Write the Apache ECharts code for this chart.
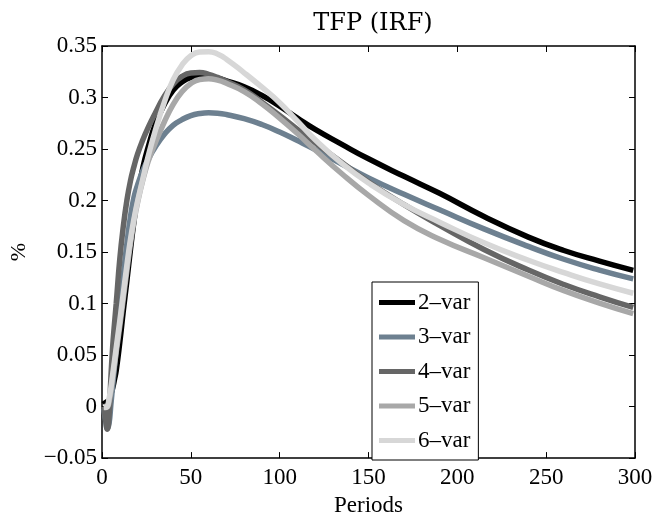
<!DOCTYPE html>
<html>
<head>
<meta charset="utf-8">
<script src="https://cdn.jsdelivr.net/npm/echarts@6/dist/echarts.min.js"></script>
<style>
html,body{margin:0;padding:0;background:#fff;}
#chart{width:657px;height:522px;}
</style>
</head>
<body>
<div id="chart"></div>
<script>
// ---- data ----
const periods = [1,2,3,4,5,6,7,8,10,12,14,16,18,20,23,26,30,35,40,45,50,55,60,65,70,80,90,100,110,120,135,150,170,190,215,240,260,280,299];
const var2 = [0.006,0.004,0.003,0.006,0.012,0.018,0.026,0.035,0.062,0.093,0.122,0.152,0.180,0.205,0.232,0.252,0.274,0.293,0.307,0.315,0.3195,0.3210,0.3205,0.3188,0.3162,0.3105,0.3020,0.2915,0.2800,0.2690,0.2545,0.2405,0.2235,0.2070,0.1845,0.1645,0.1515,0.1412,0.1322];
const var3 = [-0.002,-0.013,-0.021,-0.016,0.002,0.020,0.038,0.056,0.092,0.127,0.158,0.184,0.203,0.215,0.229,0.240,0.252,0.264,0.273,0.2785,0.2825,0.2845,0.2852,0.2848,0.2835,0.2795,0.2738,0.2665,0.2582,0.2495,0.2355,0.2220,0.2060,0.1910,0.1725,0.1555,0.1430,0.1325,0.1240];
const var4 = [0.000,-0.012,-0.022,-0.008,0.028,0.058,0.080,0.100,0.143,0.175,0.200,0.219,0.233,0.245,0.259,0.271,0.285,0.301,0.313,0.3205,0.3238,0.3242,0.3225,0.3195,0.3158,0.3075,0.2955,0.2825,0.2690,0.2560,0.2370,0.2180,0.1960,0.1760,0.1525,0.1325,0.1185,0.1065,0.0962];
const var5 = [0.000,0.000,0.000,0.005,0.015,0.028,0.040,0.053,0.078,0.105,0.132,0.158,0.180,0.198,0.220,0.238,0.256,0.276,0.293,0.3055,0.3135,0.3175,0.3182,0.3168,0.3138,0.3058,0.2940,0.2800,0.2650,0.2490,0.2260,0.2050,0.1805,0.1625,0.1445,0.1265,0.1125,0.1005,0.0903];
const var6 = [-0.001,-0.001,0.000,0.008,0.018,0.031,0.044,0.057,0.083,0.110,0.137,0.162,0.182,0.199,0.221,0.243,0.268,0.295,0.317,0.3315,0.3405,0.3442,0.3445,0.3422,0.3372,0.3240,0.3100,0.2950,0.2770,0.2590,0.2360,0.2170,0.1960,0.1790,0.1590,0.1420,0.1300,0.1190,0.1100];
const seriesNames = ['2\u2013var','3\u2013var','4\u2013var','5\u2013var','6\u2013var'];
const xTicks = [0,50,100,150,200,250,300];
const yTickLabels = {'-0.05':'\u22120.05','0':'0','0.05':'0.05','0.1':'0.1','0.15':'0.15','0.2':'0.2','0.25':'0.25','0.3':'0.3','0.35':'0.35'};

const colors = ['#000000','#6D8090','#666666','#A8A8A8','#D7D7D7'];
const FONT = 'Liberation Serif';

const chart = echarts.init(document.getElementById('chart'), null, {renderer:'canvas'});
const allVals = [var2,var3,var4,var5,var6];

function mkSeries(i){
  return {
    name: seriesNames[i], type:'line', xAxisIndex:0, yAxisIndex:0,
    data: periods.map((t,k)=>[t, allVals[i][k]]),
    showSymbol:false, symbol:'none', smooth:0.5,
    lineStyle:{color:colors[i], width:5.5, cap:'butt'},
    itemStyle:{color:colors[i]},
    z: 2+i
  };
}

const axisCommonX = {
  type:'value', min:0, max:300, interval:50,
  axisLine:{show:true, onZero:false, lineStyle:{color:'#000', width:1.5}},
  axisTick:{show:true, inside:true, length:6, lineStyle:{color:'#000', width:1}},
  splitLine:{show:false}
};
const axisCommonY = {
  type:'value', min:-0.05, max:0.35, interval:0.05,
  axisLine:{show:true, onZero:false, lineStyle:{color:'#000', width:1.5}},
  axisTick:{show:true, inside:true, length:6, lineStyle:{color:'#000', width:1}},
  splitLine:{show:false}
};

chart.setOption({
  animation:false,
  backgroundColor:'#fff',
  title:{
    text:'TFP (IRF)', left:368, top:7, textAlign:'center',
    textStyle:{fontFamily:'DejaVu Serif', fontSize:24, fontWeight:'normal', color:'#000'}
  },
  grid:{left:95, right:22, top:46, bottom:50, containLabel:false},
  legend:{
    orient:'vertical', left:372, top:282,
    padding:[9,8,8,7],
    itemGap:11.5, itemWidth:36, itemHeight:5,
    icon:'rect',
    backgroundColor:'#fff', borderColor:'#000', borderWidth:1,
    textStyle:{fontFamily:FONT, fontSize:23, color:'#000', lineHeight:23, padding:[0,0,0,-2]},
    data: seriesNames.map((n,i)=>({name:n, itemStyle:{color:colors[i]}}))
  },
  xAxis:[
    Object.assign({}, axisCommonX, {
      position:'bottom', name:'Periods', nameLocation:'middle', nameGap:29,
      nameTextStyle:{fontFamily:FONT, fontSize:23, color:'#000'},
      axisLabel:{show:true, margin:8, fontFamily:FONT, fontSize:23, color:'#000',
        formatter:(v)=> xTicks.includes(v) ? String(v) : ''}
    }),
    Object.assign({}, axisCommonX, {position:'top', axisLabel:{show:false}})
  ],
  yAxis:[
    Object.assign({}, axisCommonY, {
      position:'left', name:'%', nameLocation:'middle', nameGap:72, nameRotate:90,
      nameTextStyle:{fontFamily:FONT, fontSize:22, color:'#000'},
      axisLabel:{show:true, margin:5, fontFamily:FONT, fontSize:23, color:'#000',
        formatter:(v)=>{ const key = String(Math.round(v*100)/100); return yTickLabels[key] !== undefined ? yTickLabels[key] : key; }}
    }),
    Object.assign({}, axisCommonY, {position:'right', axisLabel:{show:false}})
  ],
  series:[0,1,2,3,4].map(mkSeries)
});
</script>
</body>
</html>
